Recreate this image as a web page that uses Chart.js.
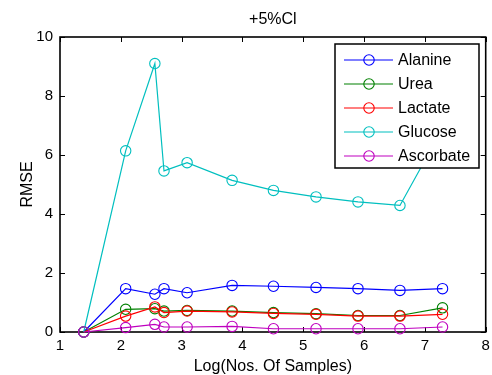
<!DOCTYPE html>
<html>
<head>
<meta charset="utf-8">
<script src="https://cdn.jsdelivr.net/npm/chart.js@4.4.1/dist/chart.umd.min.js"></script>
<style>
html,body{margin:0;padding:0;background:#fff;}
#wrap{width:492px;height:375px;position:relative;}
</style>
</head>
<body>
<div id="wrap"><canvas id="c" width="492" height="375"></canvas></div>
<script>
// ---- data ----
const logSamples = [1.39, 2.08, 2.56, 2.71, 3.09, 3.83, 4.51, 5.21, 5.90, 6.59, 7.29];
const alanine   = [0, 1.47, 1.28, 1.47, 1.33, 1.58, 1.55, 1.51, 1.47, 1.41, 1.47];
const urea      = [0, 0.77, 0.79, 0.71, 0.73, 0.71, 0.66, 0.62, 0.56, 0.56, 0.82];
const lactate   = [0, 0.54, 0.85, 0.66, 0.71, 0.68, 0.63, 0.60, 0.54, 0.54, 0.60];
const glucose   = [0, 6.14, 9.10, 5.46, 5.74, 5.14, 4.80, 4.58, 4.41, 4.29, 6.90];
const ascorbate = [0, 0.15, 0.26, 0.17, 0.17, 0.19, 0.11, 0.11, 0.11, 0.11, 0.17];
const seriesNames = ['Alanine', 'Urea', 'Lactate', 'Glucose', 'Ascorbate'];
const seriesValues = [alanine, urea, lactate, glucose, ascorbate];
const seriesColors = ['#0000ff', '#008000', '#ff0000', '#00bfbf', '#bf00bf'];
const xTicks = [1, 2, 3, 4, 5, 6, 7, 8];
const yTicks = [0, 2, 4, 6, 8, 10];
const chartTitle = '+5%Cl';
const xTitle = 'Log(Nos. Of Samples)';
const yTitle = 'RMSE';

const FONT = '"Liberation Sans", Arial, sans-serif';

const datasets = seriesNames.map((name, i) => ({
  label: name,
  data: logSamples.map((x, j) => ({x: x, y: seriesValues[i][j]})),
  borderColor: seriesColors[i],
  backgroundColor: 'rgba(0,0,0,0)',
  pointBackgroundColor: 'rgba(0,0,0,0)',
  pointBorderColor: seriesColors[i],
  pointRadius: 5.2,
  pointBorderWidth: 1.1,
  borderWidth: 1.2,
  tension: 0,
  order: seriesNames.length - i,
  clip: false
}));

const axesPlugin = {
  id: 'matlabAxes',
  beforeDatasetsDraw(chart) {
    const {ctx, chartArea: a, scales} = chart;
    ctx.save();
    ctx.strokeStyle = '#000';
    ctx.lineWidth = 1;
    const tl = 5;
    ctx.beginPath();
    xTicks.forEach(v => {
      const px = Math.round(scales.x.getPixelForValue(v)) + 0.5;
      ctx.moveTo(px, a.bottom); ctx.lineTo(px, a.bottom - tl);
      ctx.moveTo(px, a.top); ctx.lineTo(px, a.top + tl);
    });
    yTicks.forEach(v => {
      const py = Math.round(scales.y.getPixelForValue(v)) + 0.5;
      ctx.moveTo(a.left, py); ctx.lineTo(a.left + tl, py);
      ctx.moveTo(a.right, py); ctx.lineTo(a.right - tl, py);
    });
    ctx.stroke();
    ctx.lineWidth = 1.6;
    ctx.strokeRect(a.left, a.top, a.right - a.left, a.bottom - a.top);
    // title
    ctx.fillStyle = '#000';
    ctx.font = '16px ' + FONT;
    ctx.textAlign = 'center';
    ctx.textBaseline = 'middle';
    ctx.fillText(chartTitle, (a.left + a.right) / 2, 20);
    ctx.restore();
  },
  afterDatasetsDraw(chart) {
    const {ctx} = chart;
    const L = 335, T = 44, R = 479, B = 168;
    ctx.save();
    ctx.fillStyle = '#fff';
    ctx.fillRect(L, T, R - L, B - T);
    ctx.strokeStyle = '#000';
    ctx.lineWidth = 1.5;
    ctx.strokeRect(L, T, R - L, B - T);
    ctx.font = '16px ' + FONT;
    ctx.textAlign = 'left';
    ctx.textBaseline = 'middle';
    chart.data.datasets.forEach((ds, i) => {
      const y = 60 + i * 24;
      ctx.strokeStyle = ds.borderColor;
      ctx.lineWidth = 1.2;
      ctx.beginPath();
      ctx.moveTo(344, y); ctx.lineTo(393, y);
      ctx.stroke();
      ctx.lineWidth = 1.1;
      ctx.beginPath();
      ctx.arc(369, y, 5.2, 0, Math.PI * 2);
      ctx.stroke();
      ctx.fillStyle = '#000';
      ctx.fillText(ds.label, 398, y + 1);
    });
    ctx.restore();
  }
};

new Chart(document.getElementById('c'), {
  type: 'line',
  data: {datasets: datasets},
  plugins: [axesPlugin],
  options: {
    responsive: false,
    animation: false,
    devicePixelRatio: 1,
    layout: {padding: {top: 37, right: 6, left: 0, bottom: 0}},
    plugins: {
      legend: {display: false},
      title: {display: false},
      tooltip: {enabled: false}
    },
    scales: {
      x: {
        type: 'linear',
        min: 1, max: 8,
        afterBuildTicks: s => { s.ticks = xTicks.map(v => ({value: v})); },
        afterFit: s => { s.height = 43; s.paddingLeft = 0; s.paddingRight = 0; },
        grid: {display: false, drawTicks: false},
        border: {display: false},
        ticks: {color: '#000', font: {family: FONT, size: 15}, padding: 5, maxRotation: 0, autoSkip: false},
        title: {display: true, text: xTitle, color: '#000', font: {family: FONT, size: 16, lineHeight: 1}, padding: {top: 0, bottom: 0}}
      },
      y: {
        type: 'linear',
        min: 0, max: 10,
        afterBuildTicks: s => { s.ticks = yTicks.map(v => ({value: v})); },
        afterFit: s => { s.width = 60; s.paddingTop = 0; s.paddingBottom = 0; },
        grid: {display: false, drawTicks: false},
        border: {display: false},
        ticks: {color: '#000', font: {family: FONT, size: 15}, padding: 7, autoSkip: false},
        title: {display: true, text: yTitle, color: '#000', font: {family: FONT, size: 16, lineHeight: 1}, padding: {top: 20, bottom: 0}}
      }
    }
  }
});
</script>
</body>
</html>
